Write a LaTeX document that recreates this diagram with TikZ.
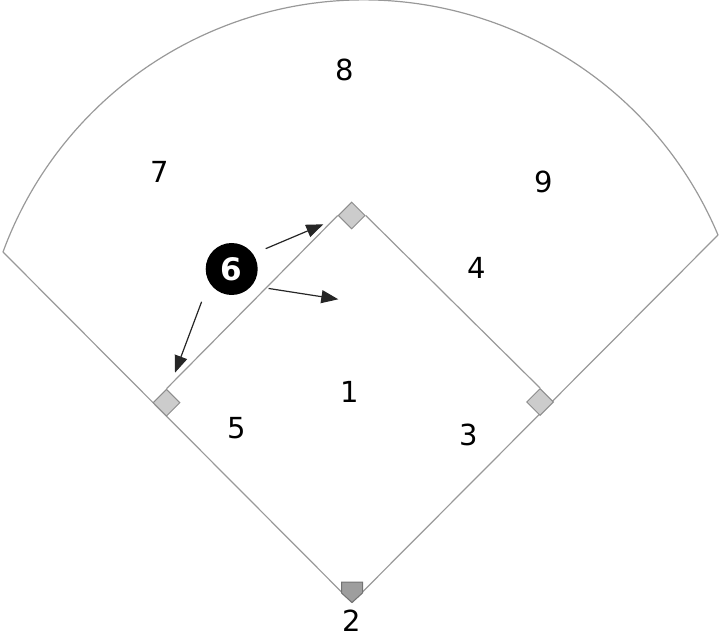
\documentclass[tikz,border=0pt]{standalone}
\usepackage{fontspec}
\setmainfont{DejaVu Sans}
\usetikzlibrary{shapes.geometric,arrows.meta}
\definecolor{linegray}{gray}{0.6}
\definecolor{bagfill}{gray}{0.8}
\definecolor{bagedge}{gray}{0.55}
\definecolor{platefill}{gray}{0.62}
\definecolor{plateedge}{gray}{0.45}
\begin{document}
\begin{tikzpicture}[x=1pt,y=1pt,
    field/.style={draw=linegray,line width=1.2pt},
    bag/.style={diamond,draw=bagedge,fill=bagfill,line width=1pt,
        minimum width=27pt,minimum height=27pt,inner sep=0pt},
    fielder/.style={font=\fontsize{29}{34}\selectfont,inner sep=1pt},
    move/.style={draw=black!85,line width=1.2pt,-{Triangle[length=17pt,width=13pt]}}]
    \useasboundingbox (0,0) rectangle (720,638);

    \coordinate (home) at (352,35.5);
    \coordinate (lend) at (3,386);
    \coordinate (rend) at (718,403);

    % outfield fence and foul lines
    \draw[field] (rend) arc[start angle=22.86,end angle=159.86,radius=384.35];
    \draw[field] (home) -- (lend);
    \draw[field] (home) -- (rend);

    % bases
    \node[bag] (sec) at (351.7,422.5) {};
    \node[bag] (thd) at (166.5,235.3) {};
    \node[bag] (fst) at (540,236) {};
    \draw[field] (sec.west) -- (thd.north);
    \draw[field] (sec.east) -- (fst.north);

    \filldraw[fill=platefill,draw=plateedge,line width=1pt]
        (home) -- ++(-10.5,9.5) -- ++(0,11) -- ++(21,0) -- ++(0,-11) -- cycle;

    % fielders
    \node[fielder] (p8) at (345,568) {8};
    \node[fielder] (p7) at (159.3,466.3) {7};
    \node[fielder] (p9) at (544,456.3) {9};
    \node[fielder] (p4) at (476.7,369.7) {4};
    \node[fielder] (p1) at (349.3,246.3) {1};
    \node[fielder] (p5) at (236.7,209.7) {5};
    \node[fielder] (p3) at (468.3,203) {3};
    \node[fielder] (p2) at (351.7,17) {2};

    \node[circle,fill=black,minimum size=52pt,inner sep=0pt,text=white,
        font=\fontsize{31}{36}\selectfont\bfseries] (six) at (231.7,369) {6};

    \coordinate (tosec) at (323.3,413.7);
    \coordinate (toin) at (338.3,338.7);
    \coordinate (tothd) at (175,265.3);
    \draw[move,shorten <=13.6pt] (six.35) -- (tosec);
    \draw[move,shorten <=17pt] (six.-40) -- (toin);
    \draw[move,shorten <=21pt] (six.210) -- (tothd);
\end{tikzpicture}
\end{document}
